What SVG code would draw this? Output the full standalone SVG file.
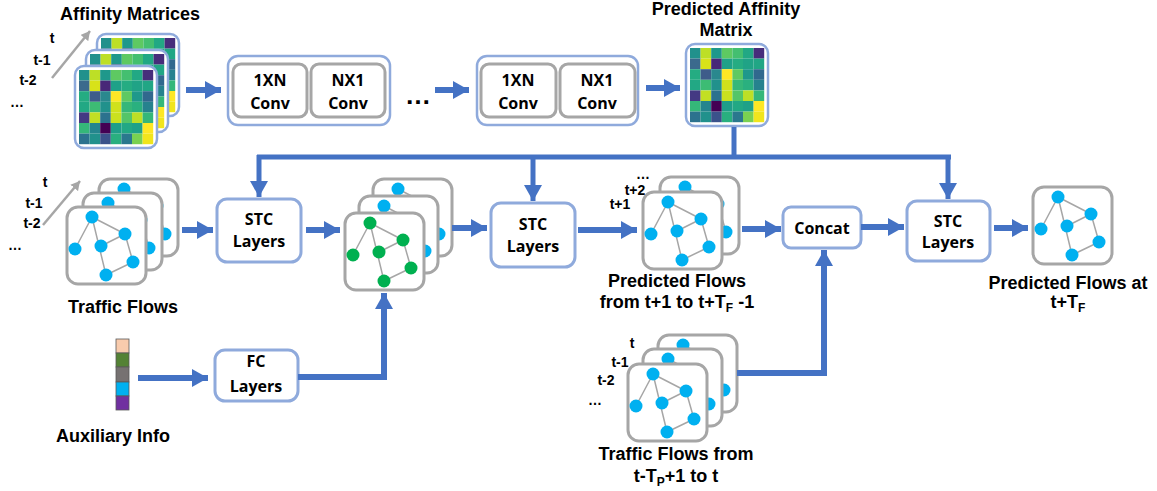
<svg xmlns="http://www.w3.org/2000/svg" xmlns:xlink="http://www.w3.org/1999/xlink" width="1157" height="491" viewBox="0 0 1157 491">
<style>
.cap{font-family:"Liberation Sans",Arial,sans-serif;font-weight:bold;font-size:18px;fill:#000;text-anchor:middle}
.lbl{font-family:"Open Sans","Liberation Sans",Arial,sans-serif;font-weight:bold;font-size:16px;fill:#000;text-anchor:middle}
.sm{font-family:"Liberation Sans",Arial,sans-serif;font-weight:bold;font-size:14px;fill:#000;text-anchor:middle}
.box{fill:#fff;stroke:#8faadc;stroke-width:3}
.gbox{fill:#fff;stroke:#a6a6a6;stroke-width:3}
.mframe{fill:#fff;stroke:#8faadc;stroke-width:2.5}
.gframe{fill:#fff;stroke:#a6a6a6;stroke-width:3}
.edge{stroke:#a6a6a6;stroke-width:1.5;fill:none}
.nb{fill:#00b0f0}
.ng{fill:#00b050}
.arr{stroke:#4472c4;stroke-width:6;fill:none;marker-end:url(#ah)}
.bus{stroke:#4472c4;stroke-width:5;fill:none}
.garr{stroke:#a6a6a6;stroke-width:2.5;fill:none;marker-end:url(#gah)}
</style>
<defs>
<marker id="ah" markerUnits="userSpaceOnUse" markerWidth="17" markerHeight="18" refX="16" refY="9" orient="auto">
<path d="M0,0 L16,9 L0,18 z" fill="#4472c4"/>
</marker>
<marker id="gah" markerUnits="userSpaceOnUse" markerWidth="10" markerHeight="10" refX="9" refY="5" orient="auto">
<path d="M0,0 L9,5 L0,10 z" fill="#a6a6a6"/>
</marker>
<g id="mat">
<rect class="mframe" x="0" y="0" width="82" height="82" rx="9"/>
<g transform="translate(4,4)">
<rect x="0" y="0" width="10.6" height="10.6" fill="#21918c"/><rect x="10.6" y="0" width="10.6" height="10.6" fill="#bddf26"/><rect x="21.2" y="0" width="10.6" height="10.6" fill="#1f988b"/><rect x="31.8" y="0" width="10.6" height="10.6" fill="#5ec962"/><rect x="42.4" y="0" width="10.6" height="10.6" fill="#44bf70"/><rect x="53" y="0" width="10.6" height="10.6" fill="#22a884"/><rect x="63.6" y="0" width="10.6" height="10.6" fill="#472d7b"/>
<rect x="0" y="10.6" width="10.6" height="10.6" fill="#3b6a8d"/><rect x="10.6" y="10.6" width="10.6" height="10.6" fill="#d8e219"/><rect x="21.2" y="10.6" width="10.6" height="10.6" fill="#482878"/><rect x="31.8" y="10.6" width="10.6" height="10.6" fill="#1fa188"/><rect x="42.4" y="10.6" width="10.6" height="10.6" fill="#25ac82"/><rect x="53" y="10.6" width="10.6" height="10.6" fill="#20a386"/><rect x="63.6" y="10.6" width="10.6" height="10.6" fill="#21a685"/>
<rect x="0" y="21.2" width="10.6" height="10.6" fill="#25ac82"/><rect x="10.6" y="21.2" width="10.6" height="10.6" fill="#3e5c8a"/><rect x="21.2" y="21.2" width="10.6" height="10.6" fill="#2a888e"/><rect x="31.8" y="21.2" width="10.6" height="10.6" fill="#fde725"/><rect x="42.4" y="21.2" width="10.6" height="10.6" fill="#5ec962"/><rect x="53" y="21.2" width="10.6" height="10.6" fill="#1f988b"/><rect x="63.6" y="21.2" width="10.6" height="10.6" fill="#31688e"/>
<rect x="0" y="31.8" width="10.6" height="10.6" fill="#22a884"/><rect x="10.6" y="31.8" width="10.6" height="10.6" fill="#3dbc74"/><rect x="21.2" y="31.8" width="10.6" height="10.6" fill="#21918c"/><rect x="31.8" y="31.8" width="10.6" height="10.6" fill="#d0e11c"/><rect x="42.4" y="31.8" width="10.6" height="10.6" fill="#35b779"/><rect x="53" y="31.8" width="10.6" height="10.6" fill="#2ab07f"/><rect x="63.6" y="31.8" width="10.6" height="10.6" fill="#26828e"/>
<rect x="0" y="42.4" width="10.6" height="10.6" fill="#443983"/><rect x="10.6" y="42.4" width="10.6" height="10.6" fill="#c2df23"/><rect x="21.2" y="42.4" width="10.6" height="10.6" fill="#2c728e"/><rect x="31.8" y="42.4" width="10.6" height="10.6" fill="#cae11f"/><rect x="42.4" y="42.4" width="10.6" height="10.6" fill="#54c568"/><rect x="53" y="42.4" width="10.6" height="10.6" fill="#bddf26"/><rect x="63.6" y="42.4" width="10.6" height="10.6" fill="#35b779"/>
<rect x="0" y="53" width="10.6" height="10.6" fill="#35b779"/><rect x="10.6" y="53" width="10.6" height="10.6" fill="#25858e"/><rect x="21.2" y="53" width="10.6" height="10.6" fill="#440154"/><rect x="31.8" y="53" width="10.6" height="10.6" fill="#1f9e89"/><rect x="42.4" y="53" width="10.6" height="10.6" fill="#22a884"/><rect x="53" y="53" width="10.6" height="10.6" fill="#1fa188"/><rect x="63.6" y="53" width="10.6" height="10.6" fill="#fde725"/>
<rect x="0" y="63.6" width="10.6" height="10.6" fill="#2c728e"/><rect x="10.6" y="63.6" width="10.6" height="10.6" fill="#21918c"/><rect x="21.2" y="63.6" width="10.6" height="10.6" fill="#3b528b"/><rect x="31.8" y="63.6" width="10.6" height="10.6" fill="#29af7f"/><rect x="42.4" y="63.6" width="10.6" height="10.6" fill="#2a788e"/><rect x="53" y="63.6" width="10.6" height="10.6" fill="#7ad151"/><rect x="63.6" y="63.6" width="10.6" height="10.6" fill="#f1e51d"/>
</g>
</g>
<g id="gedges">
<path class="edge" d="M25,10 L8,42 M25,10 L58,27 M25,10 L39,68 M34,39 L58,27 M58,27 L66,55 M66,55 L39,68"/>
</g>
<g id="gB">
<rect class="gframe" x="0" y="0" width="79" height="77" rx="11"/>
<use href="#gedges"/>
<circle class="nb" cx="25" cy="10" r="6.5"/><circle class="nb" cx="8" cy="42" r="6.5"/><circle class="nb" cx="34" cy="39" r="6.5"/><circle class="nb" cx="58" cy="27" r="6.5"/><circle class="nb" cx="66" cy="55" r="6.5"/><circle class="nb" cx="39" cy="68" r="6.5"/>
</g>
<g id="gG">
<rect class="gframe" x="0" y="0" width="79" height="77" rx="11"/>
<use href="#gedges"/>
<circle class="ng" cx="25" cy="10" r="6.5"/><circle class="ng" cx="8" cy="42" r="6.5"/><circle class="ng" cx="34" cy="39" r="6.5"/><circle class="ng" cx="58" cy="27" r="6.5"/><circle class="ng" cx="66" cy="55" r="6.5"/><circle class="ng" cx="39" cy="68" r="6.5"/>
</g>
</defs>
<rect width="1157" height="491" fill="#fff"/>

<g id="affinity-matrices">
<text class="cap" x="130" y="20">Affinity Matrices</text>
<text class="sm" x="52" y="43">t</text>
<text class="sm" x="42" y="65">t-1</text>
<text class="sm" x="28" y="85">t-2</text>
<text class="sm" x="17" y="107">…</text>
<line class="garr" x1="52" y1="78" x2="90" y2="31"/>
<use href="#mat" x="97" y="34"/>
<use href="#mat" x="86" y="50"/>
<use href="#mat" x="75" y="66"/>
</g>

<g id="conv-block-1">
<rect class="box" x="228" y="56" width="162" height="69" rx="10" style="stroke-width:2.5"/>
<rect class="gbox" x="233" y="64" width="74" height="53" rx="8"/>
<rect class="gbox" x="311" y="64" width="74" height="53" rx="8"/>
<text class="lbl" x="270" y="86">1XN</text>
<text class="lbl" x="270" y="109">Conv</text>
<text class="lbl" x="348" y="86">NX1</text>
<text class="lbl" x="348" y="109">Conv</text>
</g>

<g id="ellipsis">
<text class="sm" x="418" y="104" style="font-size:26px">…</text>
</g>

<g id="conv-block-2">
<rect class="box" x="477" y="56" width="161" height="69" rx="10" style="stroke-width:2.5"/>
<rect class="gbox" x="481" y="64" width="75" height="53" rx="8"/>
<rect class="gbox" x="560" y="64" width="75" height="53" rx="8"/>
<text class="lbl" x="518" y="86">1XN</text>
<text class="lbl" x="518" y="109">Conv</text>
<text class="lbl" x="597" y="86">NX1</text>
<text class="lbl" x="597" y="109">Conv</text>
</g>

<g id="predicted-affinity">
<text class="cap" x="726" y="15">Predicted Affinity</text>
<text class="cap" x="726" y="36">Matrix</text>
<use href="#mat" x="686" y="44"/>
</g>

<g id="traffic-flows">
<text class="sm" x="45" y="187">t</text>
<text class="sm" x="34" y="208">t-1</text>
<text class="sm" x="32" y="228">t-2</text>
<text class="sm" x="15" y="250">…</text>
<line class="garr" x1="43" y1="225" x2="80" y2="181"/>
<use href="#gB" x="99" y="179"/>
<use href="#gB" x="83" y="193"/>
<use href="#gB" x="67" y="207"/>
<text class="cap" x="123" y="313">Traffic Flows</text>
</g>

<g id="stc-1">
<rect class="box" x="217" y="199" width="84" height="63" rx="10"/>
<text class="lbl" x="259" y="225">STC</text>
<text class="lbl" x="259" y="247">Layers</text>
</g>

<g id="fused-flows">
<use href="#gB" x="373" y="179"/>
<use href="#gB" x="359" y="196"/>
<use href="#gG" x="345" y="213"/>
</g>

<g id="stc-2">
<rect class="box" x="491" y="203" width="84" height="64" rx="10"/>
<text class="lbl" x="533" y="230">STC</text>
<text class="lbl" x="533" y="252">Layers</text>
</g>

<g id="predicted-flows">
<text class="sm" x="643" y="179">…</text>
<text class="sm" x="635" y="195">t+2</text>
<text class="sm" x="620" y="209">t+1</text>
<use href="#gB" x="660" y="177"/>
<use href="#gB" x="643" y="192"/>
<text class="cap" x="677" y="287">Predicted Flows</text>
<text class="cap" x="677" y="308">from t+1 to t+T<tspan font-size="12" dy="4">F</tspan><tspan dy="-4"> -1</tspan></text>
</g>

<g id="concat">
<rect class="box" x="783" y="207" width="78" height="41" rx="8"/>
<text class="lbl" x="822" y="234">Concat</text>
</g>

<g id="stc-3">
<rect class="box" x="907" y="201" width="83" height="60" rx="10"/>
<text class="lbl" x="948" y="227">STC</text>
<text class="lbl" x="948" y="248">Layers</text>
</g>

<g id="final-flows">
<use href="#gB" x="1033" y="187"/>
<text class="cap" x="1068" y="289">Predicted Flows at</text>
<text class="cap" x="1068" y="308">t+T<tspan font-size="12" dy="4">F</tspan></text>
</g>

<g id="auxiliary-info">
<rect x="116" y="339" width="13" height="14" fill="#f8cbad" stroke="#595959" stroke-width="0.8"/>
<rect x="116" y="353" width="13" height="14" fill="#548235" stroke="#595959" stroke-width="0.8"/>
<rect x="116" y="367" width="13" height="15" fill="#767171" stroke="#595959" stroke-width="0.8"/>
<rect x="116" y="382" width="13" height="14" fill="#00b0f0" stroke="#595959" stroke-width="0.8"/>
<rect x="116" y="396" width="13" height="14" fill="#7030a0" stroke="#595959" stroke-width="0.8"/>
<text class="cap" x="113" y="442">Auxiliary Info</text>
</g>

<g id="fc-layers">
<rect class="box" x="215" y="350" width="83" height="51" rx="10"/>
<text class="lbl" x="256" y="367">FC</text>
<text class="lbl" x="256" y="392">Layers</text>
</g>

<g id="past-flows">
<text class="sm" x="632" y="348">t</text>
<text class="sm" x="620" y="367">t-1</text>
<text class="sm" x="606" y="385">t-2</text>
<text class="sm" x="595" y="405">…</text>
<use href="#gB" x="658" y="335"/>
<use href="#gB" x="643" y="349"/>
<use href="#gB" x="628" y="364"/>
<text class="cap" x="676" y="460">Traffic Flows from</text>
<text class="cap" x="676" y="482">t-T<tspan font-size="12" dy="4">P</tspan><tspan dy="-4">+1 to t</tspan></text>
</g>

<g id="connectors">
<line class="arr" x1="186" y1="90" x2="221" y2="90"/>
<line class="arr" x1="435" y1="90" x2="469" y2="90"/>
<line class="arr" x1="646" y1="88" x2="680" y2="88"/>
<path class="bus" d="M734,127 V157"/>
<path class="bus" d="M257,157 H951"/>
<line class="arr" x1="259" y1="155" x2="259" y2="197" style="stroke-width:5"/>
<line class="arr" x1="533" y1="155" x2="533" y2="201" style="stroke-width:5"/>
<line class="arr" x1="948" y1="155" x2="948" y2="199" style="stroke-width:5"/>
<line class="arr" x1="182" y1="230" x2="213" y2="230"/>
<line class="arr" x1="306" y1="230" x2="340" y2="230"/>
<line class="arr" x1="452" y1="228" x2="487" y2="228"/>
<line class="arr" x1="578" y1="230" x2="637" y2="230"/>
<line class="arr" x1="742" y1="229" x2="781" y2="229"/>
<line class="arr" x1="861" y1="227" x2="904" y2="227"/>
<line class="arr" x1="994" y1="228" x2="1028" y2="228"/>
<line class="arr" x1="138" y1="378" x2="208" y2="378"/>
<path class="arr" d="M298,377 H384 V293"/>
<path class="arr" d="M737,373 H824 V250"/>
</g>
</svg>
